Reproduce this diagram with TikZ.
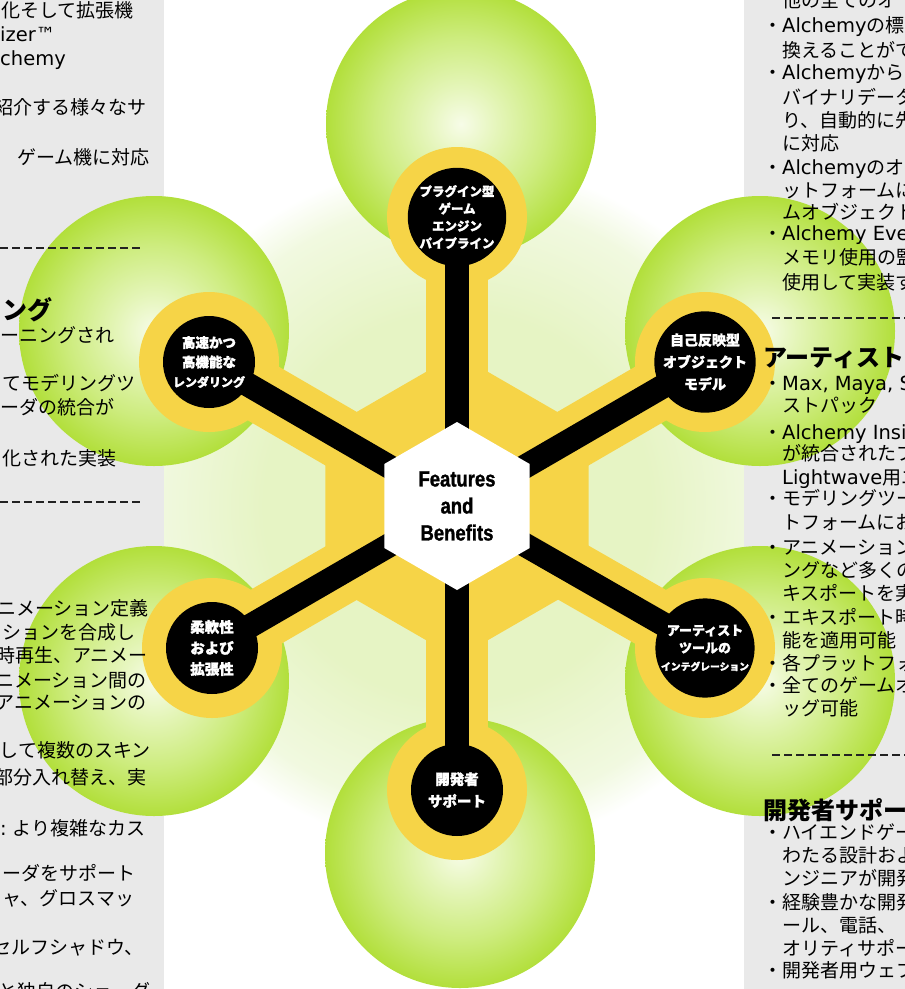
\documentclass[tikz,border=0pt]{standalone}
\usepackage{fontspec}
\setmainfont{Noto Sans CJK JP}
\newfontfamily\labfont[FakeBold=1.6]{Noto Sans CJK JP}
\newfontfamily\featfont[FakeStretch=0.84, FakeBold=1.3]{Liberation Sans}
\newfontfamily\lat{DejaVu Sans}
\definecolor{panelgray}{HTML}{E9E9E9}
\definecolor{yel}{HTML}{F6D447}
\definecolor{gdark}{HTML}{B2DF3B}
\definecolor{gmid}{HTML}{CDEC7E}
\definecolor{gmidl}{HTML}{E4F5B8}
\definecolor{glight}{HTML}{F7FCE8}
\definecolor{glowA}{HTML}{E6F4C4}
\definecolor{glowB}{HTML}{F1F9E0}
\definecolor{dashc}{HTML}{222222}
\pgfdeclareradialshading{greenball}{\pgfpoint{0bp}{0bp}}{color(0bp)=(glight); color(7bp)=(gmidl); color(16bp)=(gmid); color(25bp)=(gdark); color(50bp)=(gdark)}
\pgfdeclareradialshading{glowshade}{\pgfpoint{0bp}{0bp}}{color(0bp)=(glowA); color(14bp)=(glowA); color(22bp)=(glowB); color(25bp)=(white); color(50bp)=(white)}
\pgfdeclarelayer{bgl}
\pgfdeclarelayer{yell}
\pgfdeclarelayer{arml}
\pgfdeclarelayer{topl}
\pgfsetlayers{bgl,yell,arml,main,topl}
\tikzset{
  sat/.style={circle, fill=black, text=white, minimum size=92pt, inner sep=0pt, align=center},
  hubtext/.style={inner sep=0pt, align=center, font=\featfont\bfseries\fontsize{22}{27}\selectfont},
  yarm/.style={draw=yel, line width=62pt},
  barm/.style={draw=black, line width=24pt, line cap=round},
  body/.style={anchor=base west, inner sep=0pt, font=\fontsize{19}{23}\selectfont},
  bodyr/.style={anchor=base east, inner sep=0pt, font=\fontsize{19}{23}\selectfont},
  head/.style={anchor=base west, inner sep=0pt, font=\bfseries\fontsize{24}{28}\selectfont},
  sepline/.style={draw=dashc, line width=2.5pt, dash pattern=on 8pt off 4pt}
}
\newcommand{\lt}[1]{{\lat\fontsize{19.5}{23}\selectfont #1}}
\begin{document}
\begin{tikzpicture}[x=1pt,y=-1pt]
\useasboundingbox (0,0) rectangle (905,989);
% ---------- nodes
\fill[white] (457,422) -- (529.7,464) -- (529.7,548) -- (457,590) -- (384.3,548) -- (384.3,464) -- cycle;
\node[hubtext] (hub) at (457,506) {Features\\and\\Benefits};
\node[sat, font=\labfont\bfseries\fontsize{12.5}{17.3}\selectfont] (s1) at (457,217) {プラグイン型\\ゲーム\\エンジン\\パイプライン};
\node[sat, font=\labfont\bfseries\fontsize{13.5}{19.5}\selectfont] (s2) at (209,362) {高速かつ\\高機能な\\{\fontsize{12}{19.5}\selectfont レンダリング}};
\node[sat, font=\labfont\bfseries\fontsize{14}{22}\selectfont] (s3) at (705,362) {自己反映型\\オブジェクト\\モデル};
\node[sat, font=\labfont\bfseries\fontsize{14.5}{21}\selectfont] (s4) at (212,648) {柔軟性\\および\\拡張性};
\node[sat, font=\labfont\bfseries\fontsize{13}{17.5}\selectfont] (s5) at (705,648) {アーティスト\\ツールの\\{\fontsize{9.8}{17.5}\selectfont インテグレーション}};
\node[sat, font=\labfont\bfseries\fontsize{14.5}{22}\selectfont] (s6) at (457,790) {開発者\\サポート};
% ---------- background
\begin{pgfonlayer}{bgl}
\fill[white] (0,0) rectangle (905,989);
\shade[shading=glowshade] (hub.center) circle (345pt);
\fill[panelgray] (0,0) rectangle (164,989);
\fill[panelgray] (744,0) rectangle (905,989);
\coordinate (g1) at (461,124);
\coordinate (g2) at (154,331);
\coordinate (g3) at (760,331);
\coordinate (g4) at (154,681);
\coordinate (g5) at (760,681);
\coordinate (g6) at (460,853);
\foreach \g in {g1,g2,g3,g4,g5,g6}{\shade[shading=greenball] (\g) circle (135pt);}
\end{pgfonlayer}
% ---------- yellow
\begin{pgfonlayer}{yell}
\fill[yel] (457,354) -- (588.6,430) -- (588.6,582) -- (457,658) -- (325.4,582) -- (325.4,430) -- cycle;
\foreach \s in {s1,s2,s3,s4,s5,s6}{
  \draw[yarm] (hub.center) -- (\s.center);
  \fill[yel] (\s.center) circle (70pt);
}
\end{pgfonlayer}
% ---------- black arms
\begin{pgfonlayer}{arml}
\foreach \s in {s1,s2,s3,s4,s5,s6}{\draw[barm] (hub.center) -- (\s.center);}
\end{pgfonlayer}
% ---------- panel texts
\begin{pgfonlayer}{topl}
% left panel
\node[body] (l1) at (1,17) {化そして拡張機};
\node[body] (l2) at (0,41) {\lt{izer™}};
\node[body] (l3) at (0,65) {\lt{chemy}};
\node[bodyr] (l4) at (147,114) {紹介する様々なサ};
\node[body] (l5) at (17,164) {ゲーム機に対応};
\coordinate (d1a) at (0,248); \coordinate (d1b) at (140,248);
\draw[sepline] (d1a) -- (d1b);
\node[anchor=base east, inner sep=0pt, font=\bfseries\fontsize{25}{28}\selectfont] (l6) at (53,319) {ング};
\node[body] (l7) at (0,342) {ーニングされ};
\node[body] (l8) at (2,390) {てモデリングツ};
\node[body] (l9) at (0,414) {ーダの統合が};
\node[body] (l10) at (2,465) {化された実装};
\coordinate (d2a) at (0,502); \coordinate (d2b) at (140,502);
\draw[sepline] (d2a) -- (d2b);
\node[bodyr] (l11) at (149,615) {ニメーション定義};
\node[body] (l12) at (2,639) {ションを合成し};
\node[bodyr] (l13) at (148,662) {時再生、アニメー};
\node[bodyr] (l14) at (147,687) {ニメーション間の};
\node[bodyr] (l15) at (147,709) {アニメーションの};
\node[bodyr] (l16) at (151,757) {して複数のスキン};
\node[bodyr] (l17) at (147,784) {部分入れ替え、実};
\node[body] (l18) at (0,835) {\lt{:} より複雑なカス};
\node[body] (l19) at (2,880) {ーダをサポート};
\node[body] (l20) at (2,905) {ャ、グロスマッ};
\node[body] (l21) at (-8,954) {セルフシャドウ、};
\node[bodyr] (l22) at (151,998) {と独自のシェーダ};
% right panel
\node[body] (r1) at (782,7) {他の全てのオ};
\node[body] (r2) at (763,32) {・\lt{Alchemy}の標};
\node[body] (r3) at (782,57) {換えることがで};
\node[body] (r4) at (763,79) {・\lt{Alchemy}から};
\node[body] (r5) at (782,104) {バイナリデータ};
\node[body] (r6) at (782,127) {り、自動的に先};
\node[body] (r7) at (782,150) {に対応};
\node[body] (r8) at (763,174) {・\lt{Alchemy}のオ};
\node[body] (r9) at (782,197) {ットフォームに};
\node[body] (r10) at (782,219) {ムオブジェクト};
\node[body] (r11) at (763,240) {・\lt{Alchemy Events}};
\node[body] (r12) at (782,264) {メモリ使用の監};
\node[body] (r13) at (782,289) {使用して実装す};
\coordinate (d3a) at (772,318); \coordinate (d3b) at (905,318);
\draw[sepline] (d3a) -- (d3b);
\node[head] (r14) at (763,366) {アーティストツール};
\node[body] (r15) at (763,390) {・\lt{Max, Maya, Softimage}};
\node[body] (r16) at (782,412) {ストパック};
\node[body] (r17) at (763,439) {・\lt{Alchemy Insight}};
\node[body] (r18) at (782,460) {が統合されたプ};
\node[body] (r19) at (782,484) {\lt{Lightwave}用エ};
\node[body] (r20) at (763,505) {・モデリングツール};
\node[body] (r21) at (782,529) {トフォームにお};
\node[body] (r22) at (763,554) {・アニメーション};
\node[body] (r23) at (782,577) {ングなど多くの};
\node[body] (r24) at (782,600) {キスポートを実};
\node[body] (r25) at (763,624) {・エキスポート時};
\node[body] (r26) at (782,647) {能を適用可能};
\node[body] (r27) at (763,670) {・各プラットフォ};
\node[body] (r28) at (763,692) {・全てのゲームオ};
\node[body] (r29) at (782,715) {ッグ可能};
\coordinate (d4a) at (772,755); \coordinate (d4b) at (905,755);
\draw[sepline] (d4a) -- (d4b);
\node[head] (r30) at (763,819) {開発者サポート};
\node[body] (r31) at (763,839) {・ハイエンドゲーム};
\node[body] (r32) at (782,862) {わたる設計およ};
\node[body] (r33) at (782,885) {ンジニアが開発};
\node[body] (r34) at (763,909) {・経験豊かな開発};
\node[body] (r35) at (782,932) {ール、電話、};
\node[body] (r36) at (782,955) {オリティサポー};
\node[body] (r37) at (763,977) {・開発者用ウェブ};
\end{pgfonlayer}
\end{tikzpicture}
\end{document}
